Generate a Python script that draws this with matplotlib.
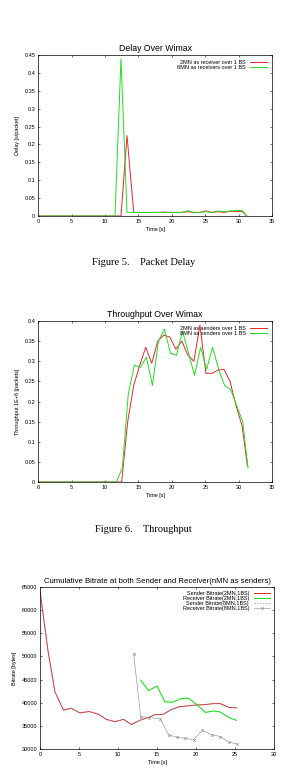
import matplotlib
matplotlib.use("Agg")
import matplotlib.pyplot as plt

# ---- Figure 5: delay ----
delay_t_2mn = [0, 12.4, 13.3, 14.3, 15.2, 16.1, 17.0, 17.9, 18.8, 19.7, 20.6, 21.5, 22.4, 23.3, 24.2,
               25.1, 26.0, 26.9, 27.8, 28.7, 29.6, 30.5, 31.2]
delay_2mn = [0, 0, 0.225, 0.01, 0.01, 0.01, 0.01, 0.01, 0.011, 0.01, 0.01, 0.01, 0.012, 0.01, 0.01,
             0.014, 0.01, 0.012, 0.01, 0.013, 0.012, 0.013, 0]
delay_t_8mn = [0, 11.5, 12.4, 13.3, 14.3, 15.2, 16.1, 17.0, 17.9, 18.8, 19.7, 20.6, 21.5, 22.4, 23.3,
               24.2, 25.1, 26.0, 26.9, 27.8, 28.7, 29.6, 30.5, 31.2]
delay_8mn = [0, 0, 0.44, 0.01, 0.01, 0.01, 0.01, 0.01, 0.01, 0.01, 0.01, 0.01, 0.01, 0.015, 0.009,
             0.01, 0.012, 0.01, 0.014, 0.012, 0.014, 0.015, 0.016, 0]

# ---- Figure 6: throughput ----
thr_t_2mn = [0, 12.5, 13.4, 14.3, 15.2, 16.1, 17.0, 17.9, 18.8, 19.7, 20.6, 21.5, 22.4, 23.3, 24.2,
             25.1, 26.0, 26.9, 27.8, 28.7, 29.6, 30.5, 31.3]
thr_2mn = [0, 0, 0.15, 0.24, 0.29, 0.335, 0.295, 0.35, 0.365, 0.36, 0.33, 0.35, 0.315, 0.30, 0.39,
           0.27, 0.27, 0.278, 0.28, 0.25, 0.19, 0.14, 0.04]
thr_t_8mn = [0, 11.7, 12.6, 13.5, 14.4, 15.3, 16.2, 17.1, 18.0, 18.9, 19.8, 20.7, 21.6, 22.5, 23.4,
             24.3, 25.2, 26.1, 27.0, 27.9, 28.8, 29.7, 30.6, 31.4]
thr_8mn = [0, 0, 0.035, 0.22, 0.29, 0.285, 0.31, 0.24, 0.35, 0.38, 0.32, 0.315, 0.375, 0.32, 0.265,
           0.335, 0.28, 0.335, 0.28, 0.24, 0.23, 0.19, 0.15, 0.035]

# ---- Figure 7: cumulative bitrate ----
br_t_sender = [0, 1.0, 1.9, 3.0, 4.0, 5.1, 6.3, 7.5, 8.5, 9.6, 10.7, 11.7, 12.8, 13.9, 14.7, 15.8,
               16.8, 17.8, 18.8, 20.1, 21.2, 22.2, 23.1, 24.2, 25.2]
br_sender_2mn = [64100, 51400, 42400, 38400, 38800, 37800, 38100, 37500, 36400, 35900, 36400, 35300,
                 36200, 36800, 37400, 37500, 38500, 39100, 39300, 39500, 39600, 39800, 39800, 39000, 38900]
br_t_recv2 = [12.9, 13.9, 15.0, 16.0, 17.0, 18.1, 19.0, 20.1, 21.2, 22.2, 23.1, 24.3, 25.2]
br_recv_2mn = [44900, 42600, 43600, 40200, 40100, 40900, 41000, 39600, 37900, 38200, 38000, 36700, 36200]
br_t_recv8 = [12.0, 12.9, 14.0, 15.4, 16.5, 17.5, 18.6, 19.7, 20.8, 22.0, 23.1, 24.2, 25.2]
br_recv_8mn = [50500, 37000, 36800, 36500, 33000, 32600, 32300, 32000, 34000, 33100, 32700, 31500, 31100]

fig = plt.figure(figsize=(2.82, 7.82), dpi=100)
sans = ["Liberation Sans", "DejaVu Sans"]
tfs = 4.0
lfs = 4.0
RED = "#e8262b"
GREEN = "#22dd22"
GRAY = "#888888"


def style(ax):
    ax.tick_params(direction="in", length=1.5, width=0.4, labelsize=tfs, pad=2,
                   top=True, right=True)
    for s in ax.spines.values():
        s.set_linewidth(0.5)
    for lab in ax.get_xticklabels() + ax.get_yticklabels():
        lab.set_family(sans)


# Axes 1
ax1 = fig.add_axes([0.135, 0.7238, 0.83, 0.2059])
ax1.plot(delay_t_2mn, delay_2mn, color=RED, lw=0.7, label="2MN as receiver over 1 BS")
ax1.plot(delay_t_8mn, delay_8mn, color=GREEN, lw=0.7, label="8MN as receivers over 1 BS")
ax1.set_xlim(0, 35)
ax1.set_ylim(0, 0.45)
ax1.set_xticks(range(0, 36, 5))
ax1.set_yticks([0, 0.05, 0.1, 0.15, 0.2, 0.25, 0.3, 0.35, 0.4, 0.45])
ax1.set_yticklabels(["0", "0.05", "0.1", "0.15", "0.2", "0.25", "0.3", "0.35", "0.4", "0.45"])
ax1.set_title("Delay Over Wimax", fontsize=6.3, family=sans, pad=3)
ax1.set_xlabel("Time [s]", fontsize=tfs, family=sans, labelpad=2)
ax1.set_ylabel("Delay [s/packet]", fontsize=tfs, family=sans, labelpad=3)
style(ax1)
ax1.legend(loc="upper right", frameon=False, markerfirst=False,
           handlelength=3, labelspacing=0.05, borderaxespad=0.5, prop={"family": sans, "size": lfs})

fig.text(0.51, 0.6637, "Figure 5.    Packet Delay", ha="center", va="center",
         fontsize=7.5, family=["Liberation Serif", "DejaVu Serif"])

# Axes 2
ax2 = fig.add_axes([0.135, 0.3836, 0.83, 0.2059])
ax2.plot(thr_t_2mn, thr_2mn, color=RED, lw=0.7, label="2MN as senders over 1 BS")
ax2.plot(thr_t_8mn, thr_8mn, color=GREEN, lw=0.7, label="8MN as senders over 1 BS")
ax2.set_xlim(0, 35)
ax2.set_ylim(0, 0.4)
ax2.set_xticks(range(0, 36, 5))
ax2.set_yticks([0, 0.05, 0.1, 0.15, 0.2, 0.25, 0.3, 0.35, 0.4])
ax2.set_yticklabels(["0", "0.05", "0.1", "0.15", "0.2", "0.25", "0.3", "0.35", "0.4"])
ax2.set_title("Throughput Over Wimax", fontsize=6.3, family=sans, pad=3)
ax2.set_xlabel("Time [s]", fontsize=tfs, family=sans, labelpad=2)
ax2.set_ylabel("Throughput 1E+6 [packets]", fontsize=tfs, family=sans, labelpad=3)
style(ax2)
ax2.legend(loc="upper right", frameon=False, markerfirst=False,
           handlelength=3, labelspacing=0.05, borderaxespad=0.5, prop={"family": sans, "size": lfs})

fig.text(0.51, 0.3235, "Figure 6.    Throughput", ha="center", va="center",
         fontsize=7.5, family=["Liberation Serif", "DejaVu Serif"])

# Axes 3
ax3 = fig.add_axes([0.142, 0.0422, 0.83, 0.2072])
ax3.plot(br_t_sender, br_sender_2mn, color=RED, lw=0.7, label="Sender Bitrate(2MN,1BS)")
ax3.plot(br_t_recv2, br_recv_2mn, color=GREEN, lw=0.8, label="Receiver Bitrate(2MN,1BS)")
ax3.plot(br_t_sender, br_sender_2mn, color=GRAY, lw=0.6, ls=(0, (1.5, 2)),
         label="Sender Bitrate(8MN,1BS)")
ax3.plot(br_t_recv8, br_recv_8mn, color=GRAY, lw=0.4, marker="x", markersize=2,
         markeredgewidth=0.4, label="Receiver Bitrate(8MN,1BS)")
ax3.set_xlim(0, 30)
ax3.set_ylim(30000, 65000)
ax3.set_xticks(range(0, 31, 5))
ax3.set_yticks(range(30000, 65001, 5000))
ax3.set_title("Cumulative Bitrate at both Sender and Receiver(nMN as senders)",
              fontsize=5.6, family=sans, pad=3)
ax3.set_xlabel("Time [s]", fontsize=tfs, family=sans, labelpad=2)
ax3.set_ylabel("Bitrate [bytes]", fontsize=tfs, family=sans, labelpad=3)
style(ax3)
ax3.legend(loc="upper right", frameon=False, markerfirst=False,
           handlelength=3, labelspacing=0.0, borderaxespad=0.3, prop={"family": sans, "size": lfs})

fig.savefig("out.png", dpi=100)
